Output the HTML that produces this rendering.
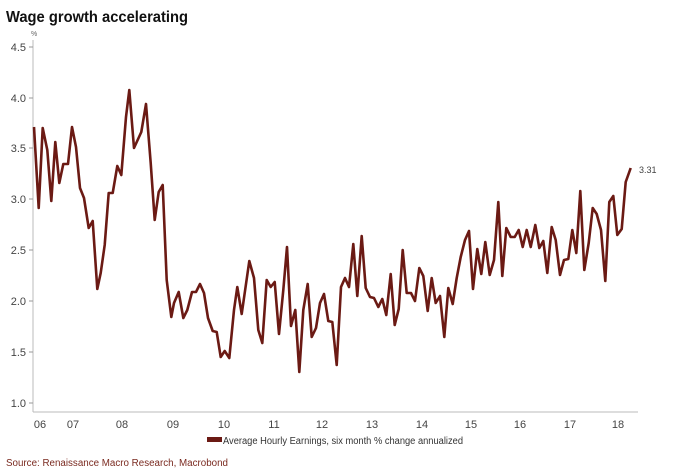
<!DOCTYPE html>
<html><head><meta charset="utf-8"><style>
body{margin:0;background:#fff;}
svg{display:block;font-family:"Liberation Sans",sans-serif;}
</style></head><body>
<svg width="680" height="472" viewBox="0 0 680 472">
<text x="6" y="22" font-size="16" font-weight="bold" fill="#111" textLength="182" lengthAdjust="spacingAndGlyphs">Wage growth accelerating</text>
<text x="31" y="36" font-size="7" fill="#666">%</text>
<line x1="33" y1="40" x2="33" y2="412" stroke="#bbb" stroke-width="1"/>
<line x1="33" y1="412" x2="638" y2="412" stroke="#bbb" stroke-width="1"/>
<g font-size="11" fill="#444" text-anchor="end">
<text x="26" y="51">4.5</text><line x1="29" y1="47" x2="33" y2="47" stroke="#999"/>
<text x="26" y="102">4.0</text><line x1="29" y1="98" x2="33" y2="98" stroke="#999"/>
<text x="26" y="152">3.5</text><line x1="29" y1="148" x2="33" y2="148" stroke="#999"/>
<text x="26" y="203">3.0</text><line x1="29" y1="199" x2="33" y2="199" stroke="#999"/>
<text x="26" y="254">2.5</text><line x1="29" y1="250" x2="33" y2="250" stroke="#999"/>
<text x="26" y="305">2.0</text><line x1="29" y1="301" x2="33" y2="301" stroke="#999"/>
<text x="26" y="356">1.5</text><line x1="29" y1="352" x2="33" y2="352" stroke="#999"/>
<text x="26" y="407">1.0</text><line x1="29" y1="403" x2="33" y2="403" stroke="#999"/>
</g>
<g font-size="11" fill="#444" text-anchor="middle">
<text x="40" y="428">06</text><text x="73" y="428">07</text><text x="122" y="428">08</text><text x="173" y="428">09</text><text x="224" y="428">10</text><text x="274" y="428">11</text><text x="322" y="428">12</text><text x="372" y="428">13</text><text x="422" y="428">14</text><text x="471" y="428">15</text><text x="520" y="428">16</text><text x="570" y="428">17</text><text x="618" y="428">18</text>
</g>
<polyline fill="none" stroke="#6b1a14" stroke-width="2.6" stroke-linejoin="round" points="34,127 38.7,208 42.7,128 47.3,150 51.3,201 55.3,142 59.3,183 63.3,164 68,164 72,127 76,147 80,188 84,198 88.7,228 92.7,221 97.3,289 100.7,273 104.7,245 108.7,193 112.7,193 117.3,166 121.3,175 126,117 129.3,90 134,148 141.3,132 146,104 150.7,163 154.7,220 158.7,192 162.7,185 166.7,280 171.3,317 174,303 178.7,292 183.3,318 187.3,310 192,292 196,292 200,284 204,293 208,318 212.7,331 216.7,332 220.7,357 224.7,351 229.3,358 234,310 237.3,287 241.7,314 249.3,261 254,278 258.3,330 262.3,343 266.7,280 270.7,287 274.7,282 279,334 283.3,290 287,247 291,326 295.3,310 299.3,372 303.3,310 307.7,284 311.7,337 316,328 320,303 324,294 328.3,321 332.3,322 336.7,365 341,287 345,278 349,287 353.3,244 357.3,296 361.7,236 365.7,288 370,297 374,298 378.3,307 382.3,299 386.3,315 390.7,274 394.7,325 398.7,309 402.7,250 406.7,293 411,293 415,301 419.3,268 423.3,276 427.7,311 431.7,278 435.7,303 440,296 444.3,337 448.3,288 452.7,304 456.7,278 460.7,257 465,240 469,231 473,289 477.3,249 481.3,274 485.3,242 489.7,275 494,260 498.3,202 502.3,276 506.3,228 510.7,237 514.7,237 518.7,230 522.7,247 526.7,230 530.7,247 535.3,225 539.3,248 543.3,241 547.3,273 551.7,227 555.7,240 560,275 564,260 568.3,259 572.3,230 576.3,253 580.3,191 584.3,270 588.7,243 592.7,208 596.7,214 601,230 605.3,281 609.3,202 613.3,196 617.3,235 621.7,229 625.7,182 630.7,168"/>
<text x="639" y="173" font-size="9" fill="#444">3.31</text>
<rect x="207" y="437" width="15" height="5" fill="#6b1a14"/>
<text x="223" y="444" font-size="10" fill="#333" textLength="240" lengthAdjust="spacingAndGlyphs">Average Hourly Earnings, six month % change annualized</text>
<text x="6" y="466" font-size="10" fill="#7a2a20" textLength="222" lengthAdjust="spacingAndGlyphs">Source: Renaissance Macro Research, Macrobond</text>
</svg>
</body></html>
